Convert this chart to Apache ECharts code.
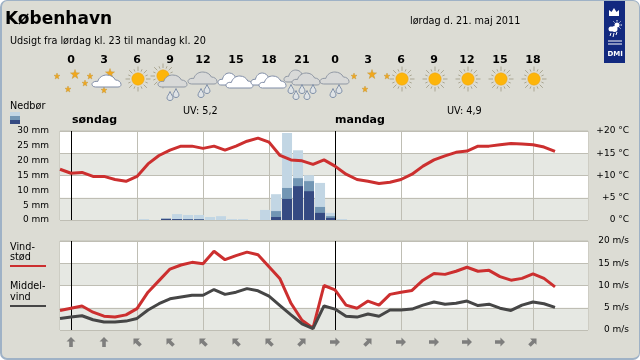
<!DOCTYPE html>
<html><head><meta charset="utf-8">
<style>
html,body{margin:0;padding:0;background:#fff;width:640px;height:360px;overflow:hidden}
#frame{position:absolute;left:0;top:0;width:640px;height:360px;box-sizing:border-box;border:1px solid #9fb2c6;border-left-width:2px;border-bottom-width:2px;border-radius:7px;background:#dcdcd4}
#chart{position:absolute;left:0;top:0;width:640px;height:360px}
</style>
<script src="https://cdn.jsdelivr.net/npm/echarts@6/dist/echarts.min.js"></script>
</head><body><div id="frame"></div><div id="chart"></div>
<script>
// Hours counted from Sunday 00:00; -1 is Saturday 23:00
const hours = [-1,0,1,2,3,4,5,6,7,8,9,10,11,12,13,14,15,16,17,18,19,20,21,22,23,24,25,26,27,28,29,30,31,32,33,34,35,36,37,38,39,40,41,42,43,44];
const temperature = [11.4,10.5,10.7,9.8,9.8,9.1,8.7,9.8,12.6,14.5,15.7,16.6,16.6,16.1,16.6,15.7,16.6,17.7,18.4,17.5,14.5,13.5,13.3,12.5,13.5,12.1,10.3,9.1,8.7,8.2,8.5,9.1,10.3,12.1,13.5,14.4,15.2,15.5,16.6,16.6,16.9,17.2,17.1,16.9,16.4,15.4];
const gust = [4.4,4.9,5.4,4.0,3.1,2.9,3.4,4.8,8.5,11.1,13.7,14.6,15.2,14.9,17.7,15.8,16.7,17.5,16.9,14.2,11.5,6.0,2.2,0.4,10.0,9.0,5.6,4.9,6.5,5.6,8.0,8.5,8.9,11.2,12.7,12.5,13.2,14.1,13.2,13.4,12.0,11.2,11.6,12.6,11.6,9.7];
const meanWind = [2.6,2.9,3.2,2.3,1.8,1.8,2.0,2.6,4.5,5.9,7.0,7.4,7.8,7.8,9.1,8.0,8.5,9.3,8.8,7.6,5.5,3.4,1.4,0.3,5.4,4.7,3.1,2.9,3.6,3.1,4.5,4.5,4.7,5.6,6.3,5.8,6.0,6.5,5.5,5.8,4.9,4.4,5.6,6.3,5.9,5.1];
const rainHours = [6,8,9,10,11,12,13,14,15,17,18,19,20,21,22,23,24];
const rainHigh = [0.3,0.5,2.0,1.7,1.7,1.0,1.3,0.3,0.3,3.4,8.7,29.3,23.5,15.1,12.5,2.4,0.3];
const rainMid = [0,0.4,0.3,0.3,0.3,0,0,0,0,0,3.0,10.8,14.1,13.1,4.4,1.3,0];
const rainLow = [0,0.4,0.3,0.2,0.2,0,0,0,0,0,1.0,7.1,11.4,9.7,2.4,0.7,0];
const forecastHours = [0,3,6,9,12,15,18,21,24,27,30,33,36,39,42];
const windDirection = ['N','N','NW','NW','NW','NW','NW','NE','E','NE','E','E','E','E','NE'];
const weatherIcons = ['night','nightcloud','sun','sunrain','rain','cloud2','cloud2','rain2','rain','night','sun','sun','sun','sun','sun'];
const gridHours = [6,12,18,30,36,42];
const midnights = [0,24];

const xMin = -1, xMax = 47, barCentre = 0.64;
const FONT = '"DejaVu Sans"';
const C = {grid:'#bfbeb4', band:'#e6e8e3', red:'#cc2f2f', dark:'#464646', hi:'#c2d6e4', mid:'#7296b4', low:'#354a82', text:'#000'};

const rotation = {N:0, NW:45, NE:-45, E:-90};
const arrowPath = 'path://M5 0 L10 5 L7 5 L7 11 L3 11 L3 5 L0 5 Z';

const cloudD = 'M4 12 C1 12 0 10 0.5 8.5 C1.5 6.5 4 6 6 6.5 C7.5 2 11 0 15 0 C19 0 22 2 23.5 5 C26.5 5 29 7 29 9.5 C29 11 28 12 26 12 Z';
const starD = 'M5 0 L6.2 3.5 L10 3.6 L7 5.9 L8.1 9.5 L5 7.4 L1.9 9.5 L3 5.9 L0 3.6 L3.8 3.5 Z';
const dropD = 'M3 0 C3.6 2.5 5.5 4.5 5.5 6.5 C5.5 8 4.4 9 3 9 C1.6 9 0.5 8 0.5 6.5 C0.5 4.5 2.4 2.5 3 0 Z';

function cloud(x,y,white,w){
  w = w||29;
  return {type:'path',shape:{pathData:cloudD,x:x,y:y,width:w,height:12,layout:'cover'},
    style:{fill:white?'#fff':'#d8d9d8',stroke:white?'#7f8ca6':'#8f97a3',lineWidth:1}};
}
function star(x,y,s){return {type:'path',shape:{pathData:starD,x:x-s/2,y:y-s/2,width:s,height:s,layout:'cover'},style:{fill:'#f2a71b',stroke:'#c79a3c',lineWidth:0.5}};}
function drop(x,y){return {type:'path',shape:{pathData:dropD,x:x-3,y:y-4.5,width:6,height:9,layout:'cover'},style:{fill:'#dfe3e6',stroke:'#7f8fa8',lineWidth:1}};}
function sun(x,y){
  const out=[];
  for(let i=0;i<16;i++){
    const a=i*Math.PI/8, long=i%2===0;
    out.push({type:'line',shape:{x1:x+Math.cos(a)*8,y1:y+Math.sin(a)*8,x2:x+Math.cos(a)*(long?12.5:10.5),y2:y+Math.sin(a)*(long?12.5:10.5)},style:{stroke:'#aaa692',lineWidth:1}});
  }
  out.push({type:'circle',shape:{cx:x,cy:y,r:6.2},style:{fill:'#fdb50a',stroke:'#e9a118',lineWidth:0.5}});
  return out;
}
const painters = {
  night:x=>[star(x-14,8,6),star(x+4,6,9),star(x+19,8,6),star(x-3,21,6)],
  nightcloud:x=>[star(x-19,15,6),star(x,22,6),star(x+6,5,9),cloud(x-12,7,true)],
  sun:x=>sun(x+1,11),
  sunrain:x=>[...sun(x-7,8),cloud(x-12,7,false),drop(x,28),drop(x+6,25)],
  rain:x=>[cloud(x-15,4,false),drop(x-2,25),drop(x+4,21)],
  cloud2:x=>[cloud(x-18,5,true,22),cloud(x-10,8,true,27)],
  rain2:x=>[cloud(x-18,2,false,23),cloud(x-10,5,false,28),drop(x-11,21),drop(x-6,27),drop(x,21),drop(x+5,27),drop(x+11,21)]
};
function renderIcon(params,api){
  const p = api.coord([api.value(0),1]);
  const kids = painters[weatherIcons[params.dataIndex]](p[0]);
  return {type:'group',x:0,y:p[1],children:kids};
}

const baseX = (i,extra)=>Object.assign({gridIndex:i,type:'value',min:xMin,max:xMax,axisLine:{show:false},
  axisTick:{show:false,customValues:gridHours},axisLabel:{show:false},
  splitLine:{show:true,lineStyle:{color:C.grid,width:1}}},extra||{});
const valueAxis = (i,max,fmt,extra)=>Object.assign({gridIndex:i,type:'value',min:0,max:max,interval:5,
  axisLine:{show:false},axisTick:{show:false},
  axisLabel:{formatter:fmt,color:C.text,fontFamily:FONT,fontSize:9},splitLine:{show:false}},extra||{});
const blackLines = {silent:true,symbol:'none',label:{show:false},lineStyle:{color:'#000',width:1,type:'solid'},data:midnights.map(h=>({xAxis:h}))};
const zipHours = (ys)=>ys.map((v,i)=>[hours[i],v]);
const rainSeries = (name,ys,color,z)=>({name:name,type:'bar',xAxisIndex:0,yAxisIndex:0,barWidth:10,barGap:'-100%',z:z,itemStyle:{color:color},
  data:ys.map((v,i)=>[rainHours[i]+barCentre,v])});
const band = {show:true,areaStyle:{color:[C.band,'#ffffff']}};
const txt = (s,x,y,o)=>({type:'text',x:x,y:y,style:Object.assign({text:s,fill:C.text,font:'9.7px '+FONT,textVerticalAlign:'middle'},o||{})});
const ray = (x1,y1,x2,y2)=>({type:'line',shape:{x1,y1,x2,y2},style:{stroke:'#fff',lineWidth:1}});

const option = {
  animation:false,
  grid:[
    {left:60,top:131,width:528,height:89,show:true,borderColor:C.grid,borderWidth:1,backgroundColor:'transparent'},
    {left:60,top:241,width:528,height:89,show:true,borderColor:C.grid,borderWidth:1,backgroundColor:'transparent'},
    {left:60,top:68,width:528,height:30},
    {left:60,top:335,width:528,height:14}
  ],
  xAxis:[
    baseX(0),baseX(1),
    baseX(2,{position:'top',splitLine:{show:false},axisLabel:{show:true,customValues:forecastHours,margin:2,color:'#000',fontFamily:FONT,fontWeight:'bold',fontSize:11,formatter:v=>String(v%24)}}),
    baseX(3,{splitLine:{show:false}})
  ],
  yAxis:[
    valueAxis(0,30,'{value} mm',{position:'left',axisLabel:{formatter:'{value} mm',color:C.text,fontFamily:FONT,fontSize:9,margin:11}}),
    valueAxis(0,20,null,{position:'right',splitLine:{show:true,lineStyle:{color:C.grid}},splitArea:band,axisLabel:{formatter:v=>(v>0?'+':'')+v+' °C',color:C.text,fontFamily:FONT,fontSize:9,align:'right',margin:41}}),
    valueAxis(1,20,null,{position:'right',splitLine:{show:true,lineStyle:{color:C.grid}},splitArea:band,axisLabel:{formatter:'{value} m/s',color:C.text,fontFamily:FONT,fontSize:9,align:'right',margin:41}}),
    {gridIndex:2,type:'value',min:0,max:1,show:false},
    {gridIndex:3,type:'value',min:0,max:1,show:false}
  ],
  series:[
    rainSeries('high',rainHigh,C.hi,2),
    rainSeries('mid',rainMid,C.mid,3),
    rainSeries('low',rainLow,C.low,4),
    {name:'temperature',type:'line',xAxisIndex:0,yAxisIndex:1,data:zipHours(temperature),symbol:'none',z:6,lineStyle:{color:C.red,width:3},markLine:blackLines},
    {name:'gust',type:'line',xAxisIndex:1,yAxisIndex:2,data:zipHours(gust),symbol:'none',z:6,lineStyle:{color:C.red,width:3},markLine:blackLines},
    {name:'mean',type:'line',xAxisIndex:1,yAxisIndex:2,data:zipHours(meanWind),symbol:'none',z:7,lineStyle:{color:C.dark,width:3}},
    {name:'icons',type:'custom',xAxisIndex:2,yAxisIndex:3,clip:false,renderItem:renderIcon,data:forecastHours.map(h=>[h,0.5])},
    {name:'direction',type:'scatter',xAxisIndex:3,yAxisIndex:4,symbol:arrowPath,symbolSize:[9,10],itemStyle:{color:'#666'},
      data:forecastHours.map((h,i)=>({value:[h,0.5],symbolRotate:rotation[windDirection[i]]}))}
  ],
  graphic:{elements:[
    txt('København',5,20,{font:'bold 17px '+FONT}),
    txt('Udsigt fra lørdag kl. 23 til mandag kl. 20',10,41),
    txt('lørdag d. 21. maj 2011',410,21),
    txt('UV: 5,2',183,111),
    txt('UV: 4,9',447,111),
    txt('søndag',72,120,{font:'bold 11px '+FONT}),
    txt('mandag',335,120,{font:'bold 11px '+FONT}),
    txt('Nedbør',10,106),
    {type:'rect',shape:{x:10,y:112,width:10,height:4},style:{fill:C.hi}},
    {type:'rect',shape:{x:10,y:116,width:10,height:4},style:{fill:C.mid}},
    {type:'rect',shape:{x:10,y:120,width:10,height:4},style:{fill:C.low}},
    txt('Vind-',10,247),txt('stød',10,257),
    {type:'rect',shape:{x:10,y:265,width:36,height:2},style:{fill:C.red}},
    txt('Middel-',10,286),txt('vind',10,297),
    {type:'rect',shape:{x:10,y:305,width:36,height:2},style:{fill:C.dark}},
    // DMI logo
    {type:'rect',shape:{x:604,y:1,width:21,height:62},style:{fill:'#12297f'}},
    {type:'polygon',shape:{points:[[609,16],[609,10],[611.5,12],[614,8],[616.5,12],[619,10],[619,16]]},style:{fill:'#fff'}},
    {type:'circle',shape:{cx:617,cy:25,r:2.5},style:{fill:'#fff'}},
    ray(617,20,617,21.5),ray(622,25,620.5,25),ray(620.5,21.5,619.5,22.5),ray(613.5,21.5,614.5,22.5),ray(620.5,28.5,619.5,27.5),
    {type:'circle',shape:{cx:611,cy:29,r:2.5},style:{fill:'#fff'}},
    {type:'circle',shape:{cx:614.5,cy:29,r:3},style:{fill:'#fff'}},
    ray(611,33,610,36),ray(614,33,613,37),ray(617,32,616,35),
    ray(608,41,622,41),ray(608,44,622,44),
    txt('DMI',607.5,54.5,{font:'bold 7px '+FONT,fill:'#fff'})
  ]}
};
const chart = echarts.init(document.getElementById('chart'),null,{renderer:'canvas'});
chart.setOption(option);
</script></body></html>
